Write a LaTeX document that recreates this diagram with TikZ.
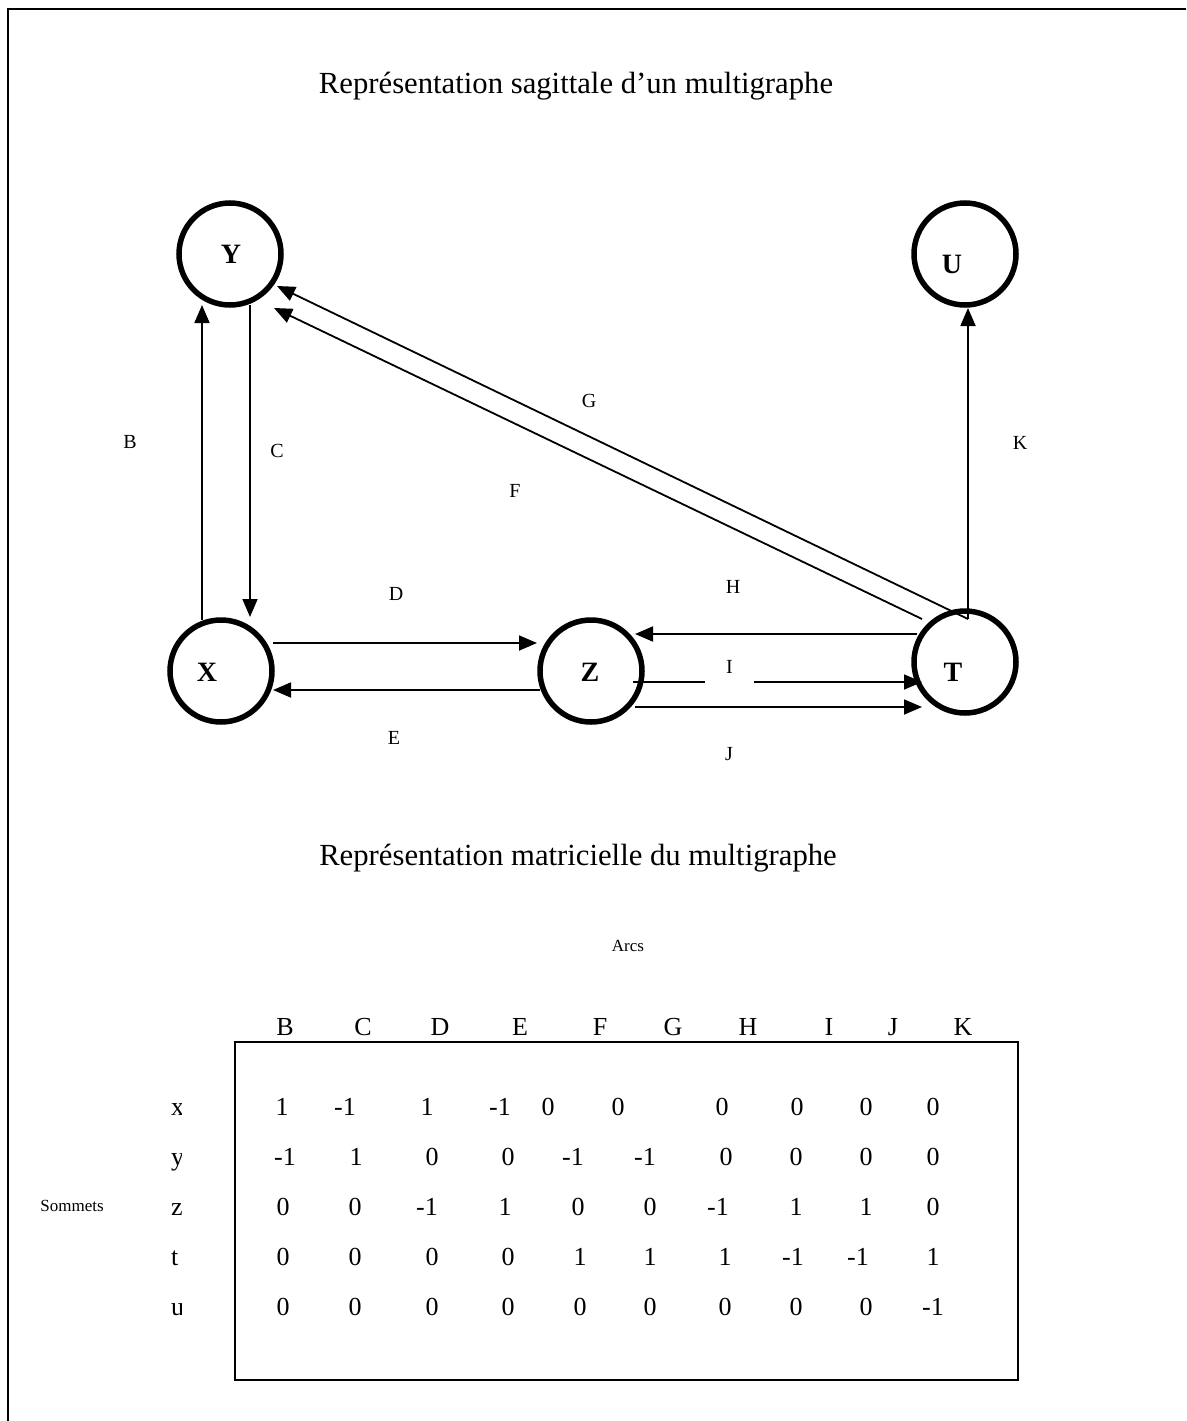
\documentclass[tikz,border=0pt]{standalone}
\usepackage{fontspec}
\setmainfont{Liberation Serif}
\usetikzlibrary{arrows.meta,calc}
\begin{document}
\begin{tikzpicture}[x=1pt,y=-1pt,
 vertex/.style={circle,draw,line width=5.5pt,minimum size=102pt,inner sep=0pt},
 vlab/.style={font=\fontsize{28}{28}\selectfont\bfseries,inner sep=0pt},
 arr/.style={line width=1.8pt,-{Triangle[length=18pt,width=15pt]}},
 elab/.style={font=\fontsize{20}{20}\selectfont,inner sep=0pt},
 ttl/.style={font=\fontsize{30.7}{31}\selectfont,inner sep=0pt},
 cell/.style={font=\fontsize{26}{26}\selectfont,inner sep=0pt,anchor=base},
 small/.style={font=\fontsize{17}{17}\selectfont,inner sep=0pt}]
\useasboundingbox (0,0) rectangle (1186,1421);
\draw[line width=2.5pt] (8,1421) -- (8,9) -- (1186,9);

\node[ttl] (t1) at (576,86) {Représentation sagittale d’un multigraphe};
\node[ttl] (t2) at (578,858) {Représentation matricielle du multigraphe};

% vertices
\node[vertex] (Y) at (230,254) {};
\node[vertex] (U) at (965,254) {};
\node[vertex] (X) at (221,671) {};
\node[vertex] (Z) at (591,671) {};
\node[vertex] (T) at (965,662) {};
\node[vlab] (Yl) at (231,254) {Y};
\node[vlab] (Ul) at (952,264) {U};
\node[vlab] (Xl) at (207,672) {X};
\node[vlab] (Zl) at (590,672) {Z};
\node[vlab] (Tl) at (953,672) {T};

% arcs
\draw[arr] ($(X.center)+(-19,-51)$) -- ($(Y.center)+(-28,51)$);
\draw[arr] ($(Y.center)+(20,51)$) -- ($(X.center)+(29,-54)$);
\draw[arr] ($(X.center)+(52,-28)$) -- ($(Z.center)+(-54,-28)$);
\draw[arr] ($(Z.center)+(-51,19)$) -- ($(X.center)+(52,19)$);
\draw[arr] ($(T.center)+(-48,-28)$) -- ($(Z.center)+(44,-37)$);
\draw[arr] ($(Z.center)+(42,11)$) -- ($(T.center)+(-43,20)$);
\draw[arr] ($(Z.center)+(44,36)$) -- ($(T.center)+(-43,45)$);
\draw[arr] ($(T.center)+(3,-43)$) -- ($(U.center)+(3,54)$);
\draw[arr] ($(T.center)+(3,-43)$) -- ($(Y.center)+(47,32)$);
\draw[arr] ($(T.center)+(-43,-43)$) -- ($(Y.center)+(44,54)$);

% arc labels
\node[elab] (lB) at (130,442) {B};
\node[elab] (lC) at (277,451) {C};
\node[elab] (lD) at (396,594) {D};
\begin{scope}
\clip (380,720) rectangle (398,760);
\node[elab] (lE) at (394,738) {E};
\end{scope}
\node[elab] (lF) at (515,491) {F};
\node[elab] (lG) at (589,401) {G};
\node[elab] (lH) at (733,587) {H};
\node[elab,fill=white,minimum width=49pt,minimum height=32pt] (lI) at (729.5,666.5) {I};
\node[elab] (lJ) at (729,754) {J};
\node[elab] (lK) at (1020,443) {K};

% matrix
\node[small] (arcs) at (628,946) {Arcs};
\node[small] (som) at (72,1206) {Sommets};
\node[draw,line width=2pt,minimum width=783pt,minimum height=338pt,inner sep=0pt] (M) at (626.5,1211) {};
\foreach \c/\xx in {B/285,C/363,D/440,E/520,F/600,G/673,H/748,I/829,J/893,K/963}
  \node[cell] (h\c) at (\xx,1035) {\c};
\begin{scope}
\clip (160,1080) rectangle (181,1330);
\foreach \r/\yy in {x/1115,y/1165,z/1215,t/1265,u/1315}
  \node[cell,anchor=base west] (r\r) at (171,\yy) {\r};
\end{scope}
\foreach \xx/\v in {282/1,345/-1,427/1,500/-1,548/0,618/0,722/0,797/0,866/0,933/0}
  \node[cell] at (\xx,1115) {\v};
\foreach \xx/\v in {285/-1,356/1,432/0,508/0,573/-1,645/-1,726/0,796/0,866/0,933/0}
  \node[cell] at (\xx,1165) {\v};
\foreach \xx/\v in {283/0,355/0,427/-1,505/1,578/0,650/0,718/-1,796/1,866/1,933/0}
  \node[cell] at (\xx,1215) {\v};
\foreach \xx/\v in {283/0,355/0,432/0,508/0,580/1,650/1,725/1,793/-1,858/-1,933/1}
  \node[cell] at (\xx,1265) {\v};
\foreach \xx/\v in {283/0,355/0,432/0,508/0,580/0,650/0,725/0,796/0,866/0,933/-1}
  \node[cell] at (\xx,1315) {\v};
\end{tikzpicture}
\end{document}
